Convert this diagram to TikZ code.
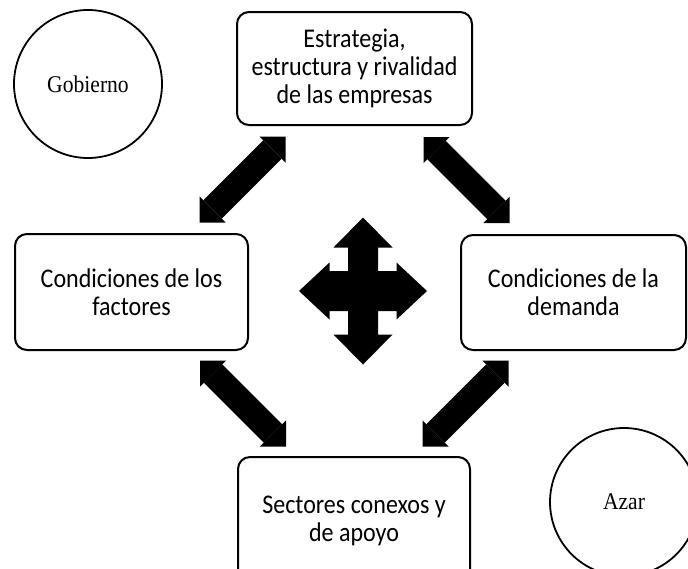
\documentclass[tikz,border=0pt]{standalone}
\usepackage{fontspec}
\setmainfont{Carlito}
\newfontfamily\cajafont{Carlito}[FakeStretch=0.89]
\newfontfamily\timesfont{Liberation Serif}[FakeStretch=0.9]
\usetikzlibrary{arrows.meta,calc}

\begin{document}
\begin{tikzpicture}[x=0.5pt,y=-0.5pt,
    caja/.style={draw, line width=1pt, rounded corners=6pt, align=center, inner sep=0pt,
      font=\cajafont\fontsize{13.5}{14}\selectfont},
    circulo/.style={draw, circle, line width=0.9pt, minimum size=74pt, inner sep=0pt,
      font=\timesfont\fontsize{12}{14}\selectfont},
    flecha/.style={line width=13pt, {Triangle[length=9.25pt, width=18.5pt, line width=0pt]}-{Triangle[length=9.25pt, width=18.5pt, line width=0pt]}}]

    \useasboundingbox (0,0) rectangle (688,568);

    % Cajas del diamante
    \node[caja, minimum width=117.5pt, minimum height=56.5pt] (estrategia) at (354.5,68.5) {Estrategia,\\estructura y rivalidad\\de las empresas};
    \node[caja, minimum width=116.5pt, minimum height=58pt] (factores) at (131.5,292) {Condiciones de los\\factores};
    \node[caja, minimum width=112.5pt, minimum height=57.5pt] (demanda) at (573.5,292.5) {Condiciones de la\\demanda};
    \node[caja, minimum width=116pt, minimum height=64pt] (sectores) at (354,521) {Sectores conexos y\\de apoyo};

    % Circulos
    \node[circulo] (gobierno) at (88,84) {Gobierno};
    \node[circulo] (azar) at (624,502) {Azar};

    % Flechas dobles entre las cajas
    \foreach \a/\b/\dx/\dy [count=\i] in {factores.north east/estrategia.south west/43/-43,
        estrategia.south east/demanda.north west/43/43,
        factores.south east/sectores.north west/43/43,
        demanda.south west/sectores.north east/43/-43}{
      \coordinate (m\i) at ($(\a)!.5!(\b)$);
      \draw[flecha] ($(m\i)-(\dx,\dy)$) -- ($(m\i)+(\dx,\dy)$);
    }

    % Cruz central
    \coordinate (centro) at (363,291);
    \fill[shift={(centro)}] (0,-73.5) -- (29.5,-43.5) -- (15,-43.5) -- (15,-20) -- (33.5,-20) -- (33.5,-28.5)
      -- (64,0) -- (33.5,28.5) -- (33.5,20) -- (15,20) -- (15,43.5) -- (29.5,43.5)
      -- (0,73.5) -- (-29.5,43.5) -- (-15,43.5) -- (-15,20) -- (-33.5,20) -- (-33.5,28.5)
      -- (-64,0) -- (-33.5,-28.5) -- (-33.5,-20) -- (-15,-20) -- (-15,-43.5) -- (-29.5,-43.5) -- cycle;

\end{tikzpicture}
\end{document}
